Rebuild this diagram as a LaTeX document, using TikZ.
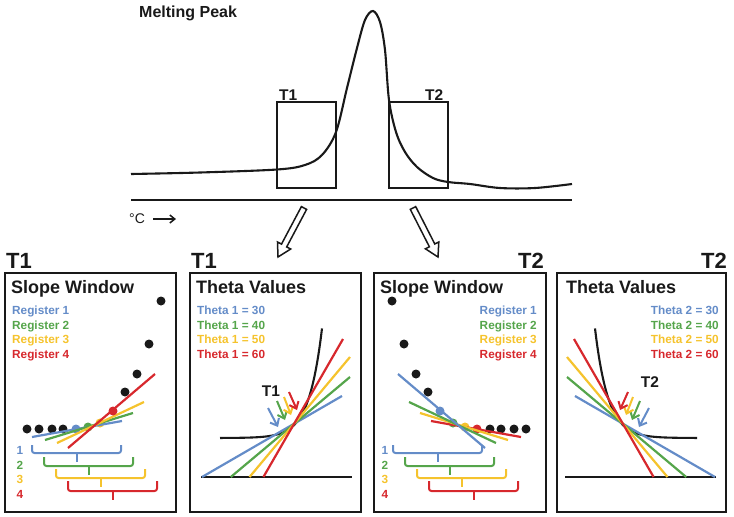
\documentclass[tikz,border=0pt]{standalone}
\usepackage{fontspec}
\setmainfont{Liberation Sans}
\usetikzlibrary{arrows.meta}
\definecolor{cb}{RGB}{100,140,200}
\definecolor{cg}{RGB}{85,165,75}
\definecolor{cy}{RGB}{245,195,45}
\definecolor{cr}{RGB}{215,40,45}
\definecolor{ink}{RGB}{25,25,25}
\tikzset{
  ttl/.style={font=\fontsize{22}{24}\selectfont\bfseries, inner sep=0, text=ink},
  hdr/.style={font=\fontsize{18}{20}\selectfont\bfseries, inner sep=0, text=ink},
  reg/.style={font=\fontsize{11.8}{13}\selectfont\bfseries, inner sep=0},
  lbl/.style={font=\fontsize{15.5}{17}\selectfont\bfseries, inner sep=0, text=ink},
  panelbox/.style={draw=ink, line width=1.8},
  fitline/.style={line width=2.2},
  sarr/.style={line width=2, -{Straight Barb[length=6pt,width=10pt]}},
  brk/.style={line width=2, rounded corners=2.5pt},
}
\newcommand{\myBrk}[5]{%
  \draw[#1, brk] (#2,#4) -- (#2,#5) -- (#3,#5) -- (#3,#4);
  \draw[#1, line width=2] ({(#2+#3)/2},#5) -- ({(#2+#3)/2},{#5+9});}
\begin{document}
\begin{tikzpicture}[x=1pt, y=-1pt]
\useasboundingbox (0,0) rectangle (734,517);

% ---------- top: melting peak ----------
\node[font=\fontsize{16}{18}\selectfont\bfseries, inner sep=0, anchor=base west, text=ink] (mp) at (139,17) {Melting Peak};
\draw[ink, line width=2.1] plot[smooth, tension=0.55] coordinates {
 (131,174) (200,172.5) (277,169.5) (305,165) (322,155) (336,132) (347,88)
 (357,48) (365,20) (373,11) (380,22) (385,50) (389,100) (396,132) (405,152)
 (417,167) (433,178) (448,182) (470,184) (500,188) (535,188) (572,184)};
\draw[ink, line width=1.7] (277,102) rectangle (336,188);
\draw[ink, line width=1.7] (389,102) rectangle (448,188);
\node[lbl, anchor=base west] (t1top) at (279,100) {T1};
\node[lbl, anchor=base west] (t2top) at (425,100) {T2};
\draw[ink, line width=2.8] (131,200) -- (572,200);
\node[font=\fontsize{14}{16}\selectfont, inner sep=0, anchor=base west, text=ink] (degc) at (129,223) {°C};
\coordinate (ca) at (153,219);
\coordinate (cb2) at (176,219);
\draw[ink, line width=1.5, -{Straight Barb[length=5pt,width=8pt]}] (ca) -- (cb2);

% hollow arrows
\draw[ink, line width=1.5, fill=white, line join=miter]
  (301.4,206.6) -- (281.5,244.1) -- (277.5,242.0) -- (278,257) -- (290.7,249.0) -- (286.7,246.9) -- (306.6,209.4) -- cycle;
\draw[ink, line width=1.5, fill=white, line join=miter]
  (415.7,206.6) -- (434.8,244.0) -- (438.8,242.0) -- (438,257) -- (425.4,248.8) -- (429.4,246.8) -- (410.3,209.4) -- cycle;

% ---------- panel 1: slope window T1 ----------
\draw[panelbox] (5,273) rectangle (176,512);
\node[ttl, anchor=base west] (p1t) at (6,268) {T1};
\node[hdr, anchor=base west] (p1h) at (11,293) {Slope Window};
\node[reg, anchor=base west, text=cb] (p1r1) at (12,314) {Register 1};
\node[reg, anchor=base west, text=cg] (p1r2) at (12,329) {Register 2};
\node[reg, anchor=base west, text=cy] (p1r3) at (12,343) {Register 3};
\node[reg, anchor=base west, text=cr] (p1r4) at (12,358) {Register 4};
\foreach \px/\py in {27/429,39/429,52/429,63/429,125/392,137/374,149/344,161/301}
  \fill[ink] (\px,\py) circle[radius=4.5];
\fill[cb] (76,429) circle[radius=4.5];
\fill[cg] (88,427) circle[radius=4.5];
\fill[cy] (100,423) circle[radius=4.5];
\draw[cb, fitline] (32,437) -- (122,421);
\draw[cg, fitline] (45,440) -- (133,413);
\draw[cy, fitline] (57,443) -- (144,402);
\draw[cr, fitline] (68,448) -- (155,374);
\fill[cr] (113,411) circle[radius=4.5];
\myBrk{cb}{32}{121}{445}{453}
\myBrk{cg}{44}{133}{457}{466}
\myBrk{cy}{56}{145}{469}{478}
\myBrk{cr}{68}{157}{481}{491}
\node[reg, anchor=base, text=cb] (p1n1) at (20,454) {1};
\node[reg, anchor=base, text=cg] (p1n2) at (20,469) {2};
\node[reg, anchor=base, text=cy] (p1n3) at (20,483) {3};
\node[reg, anchor=base, text=cr] (p1n4) at (20,498) {4};

% ---------- panel 2: theta values T1 ----------
\draw[panelbox] (190,273) rectangle (361,512);
\node[ttl, anchor=base west] (p2t) at (191,268) {T1};
\node[hdr, anchor=base west] (p2h) at (196,293) {Theta Values};
\node[reg, anchor=base west, text=cb] (p2r1) at (197,314) {Theta 1 = 30};
\node[reg, anchor=base west, text=cg] (p2r2) at (197,329) {Theta 1 = 40};
\node[reg, anchor=base west, text=cy] (p2r3) at (197,343) {Theta 1 = 50};
\node[reg, anchor=base west, text=cr] (p2r4) at (197,358) {Theta 1 = 60};
\node[lbl, anchor=base] (p2l) at (271,396) {T1};
\draw[ink, line width=2.1] (201,477) -- (352,477);
\draw[ink, line width=2.1] plot[domain=220:322, samples=80, smooth] (\x,{438-0.0457*exp(0.0763*(\x-220))});
\draw[cb, fitline] (202,477) -- (342,396);
\draw[cg, fitline] (230.8,477) -- (350,377);
\draw[cy, fitline] (249.5,477) -- (350,357);
\draw[cr, fitline] (263.4,477) -- (343,339);
\draw[cb, sarr] (268,408) -- (278,427);
\draw[cg, sarr] (277,401) -- (285,420);
\draw[cy, sarr] (284,397) -- (291,415);
\draw[cr, sarr] (289,392) -- (297,410);

% ---------- panel 3: slope window T2 ----------
\draw[panelbox] (374,273) rectangle (546,512);
\node[ttl, anchor=base east] (p3t) at (544,268) {T2};
\node[hdr, anchor=base west] (p3h) at (380,293) {Slope Window};
\node[reg, anchor=base east, text=cb] (p3r1) at (537,314) {Register 1};
\node[reg, anchor=base east, text=cg] (p3r2) at (537,329) {Register 2};
\node[reg, anchor=base east, text=cy] (p3r3) at (537,343) {Register 3};
\node[reg, anchor=base east, text=cr] (p3r4) at (537,358) {Register 4};
\foreach \px/\py in {526/429,514/429,501/429,490/429,428/392,416/374,404/344,392/301}
  \fill[ink] (\px,\py) circle[radius=4.5];
\fill[cr] (477,429) circle[radius=4.5];
\fill[cy] (465,427) circle[radius=4.5];
\fill[cg] (453,423) circle[radius=4.5];
\draw[cr, fitline] (521,437) -- (431,421);
\draw[cy, fitline] (508,440) -- (420,413);
\draw[cg, fitline] (496,443) -- (409,402);
\draw[cb, fitline] (485,448) -- (398,374);
\fill[cb] (440,411) circle[radius=4.5];
\myBrk{cb}{393}{482}{445}{453}
\myBrk{cg}{405}{494}{457}{466}
\myBrk{cy}{417}{506}{469}{478}
\myBrk{cr}{429}{518}{481}{491}
\node[reg, anchor=base, text=cb] (p3n1) at (385,454) {1};
\node[reg, anchor=base, text=cg] (p3n2) at (385,469) {2};
\node[reg, anchor=base, text=cy] (p3n3) at (385,483) {3};
\node[reg, anchor=base, text=cr] (p3n4) at (385,498) {4};

% ---------- panel 4: theta values T2 ----------
\draw[panelbox] (557,273) rectangle (726,512);
\node[ttl, anchor=base east] (p4t) at (727,268) {T2};
\node[hdr, anchor=base west] (p4h) at (566,293) {Theta Values};
\node[reg, anchor=base east, text=cb] (p4r1) at (719,314) {Theta 2 = 30};
\node[reg, anchor=base east, text=cg] (p4r2) at (719,329) {Theta 2 = 40};
\node[reg, anchor=base east, text=cy] (p4r3) at (719,343) {Theta 2 = 50};
\node[reg, anchor=base east, text=cr] (p4r4) at (719,358) {Theta 2 = 60};
\node[lbl, anchor=base] (p4l) at (650,387) {T2};
\begin{scope}[xshift=917pt, xscale=-1]
\draw[ink, line width=2.1] (201,477) -- (352,477);
\draw[ink, line width=2.1] plot[domain=220:322, samples=80, smooth] (\x,{438-0.0457*exp(0.0763*(\x-220))});
\draw[cb, fitline] (202,477) -- (342,396);
\draw[cg, fitline] (230.8,477) -- (350,377);
\draw[cy, fitline] (249.5,477) -- (350,357);
\draw[cr, fitline] (263.4,477) -- (343,339);
\draw[cb, sarr] (268,408) -- (278,427);
\draw[cg, sarr] (277,401) -- (285,420);
\draw[cy, sarr] (284,397) -- (291,415);
\draw[cr, sarr] (289,392) -- (297,410);
\end{scope}
\end{tikzpicture}
\end{document}
